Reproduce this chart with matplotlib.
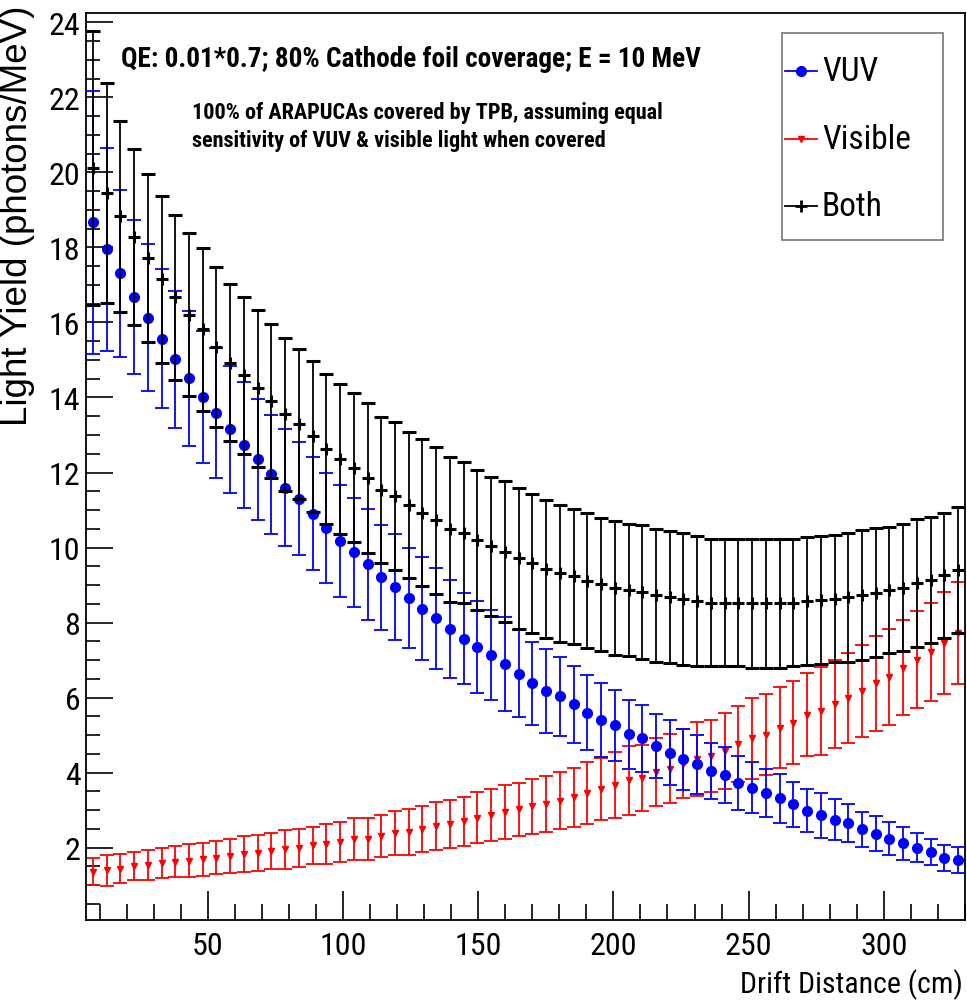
import numpy as np
import matplotlib
matplotlib.use("Agg")
import matplotlib.pyplot as plt
from matplotlib.lines import Line2D
from matplotlib.patches import Rectangle
from matplotlib.ticker import MultipleLocator

NARROW = ['Roboto Condensed', 'Liberation Sans Narrow', 'Liberation Sans', 'DejaVu Sans']
plt.rcParams['font.family'] = NARROW

# 64 drift-distance bins from 5 to 330 cm
bin_edges = np.linspace(5, 330, 65)
drift = 0.5 * (bin_edges[:-1] + bin_edges[1:])

vuv = [18.67, 17.95, 17.31, 16.68, 16.13, 15.57, 15.02, 14.51, 14.02, 13.58,
       13.15, 12.73, 12.35, 11.95, 11.60, 11.30, 10.90, 10.53, 10.18, 9.87,
       9.55, 9.21, 8.95, 8.65, 8.37, 8.11, 7.82, 7.57, 7.35, 7.13,
       6.89, 6.64, 6.38, 6.18, 6.03, 5.82, 5.60, 5.40, 5.26, 5.02,
       4.91, 4.71, 4.53, 4.35, 4.22, 4.04, 3.93, 3.73, 3.60, 3.45,
       3.31, 3.15, 2.98, 2.86, 2.74, 2.65, 2.49, 2.37, 2.24, 2.11,
       2.00, 1.88, 1.73, 1.67]
vuv_err = [3.50, 2.70, 2.23, 2.05, 1.95, 1.85, 1.83, 1.80, 1.76, 1.73,
           1.70, 1.67, 1.62, 1.58, 1.57, 1.50, 1.50, 1.47, 1.50, 1.46,
           1.48, 1.40, 1.42, 1.34, 1.37, 1.34, 1.31, 1.21, 1.22, 1.20,
           1.25, 1.16, 1.10, 1.12, 1.05, 1.02, 1.00, 0.98, 0.95, 0.92,
           0.90, 0.86, 0.87, 0.82, 0.79, 0.75, 0.75, 0.72, 0.67, 0.64,
           0.65, 0.61, 0.57, 0.60, 0.55, 0.50, 0.47, 0.46, 0.44, 0.44,
           0.38, 0.34, 0.35, 0.34]

visible = [1.36, 1.39, 1.44, 1.51, 1.54, 1.59, 1.62, 1.65, 1.69, 1.73,
           1.78, 1.83, 1.86, 1.90, 1.95, 1.98, 2.06, 2.09, 2.15, 2.23,
           2.24, 2.30, 2.39, 2.42, 2.49, 2.58, 2.64, 2.70, 2.79, 2.87,
           2.95, 3.02, 3.10, 3.16, 3.25, 3.34, 3.45, 3.57, 3.67, 3.79,
           3.85, 4.01, 4.10, 4.23, 4.36, 4.44, 4.58, 4.76, 4.91, 5.01,
           5.19, 5.33, 5.54, 5.64, 5.83, 5.98, 6.18, 6.38, 6.54, 6.80,
           7.01, 7.21, 7.45, 7.71]
visible_err = [0.37, 0.41, 0.38, 0.37, 0.40, 0.41, 0.41, 0.44, 0.44, 0.44,
               0.46, 0.48, 0.48, 0.48, 0.52, 0.51, 0.50, 0.53, 0.53, 0.56,
               0.56, 0.56, 0.59, 0.62, 0.62, 0.64, 0.64, 0.66, 0.68, 0.69,
               0.71, 0.71, 0.74, 0.75, 0.76, 0.79, 0.83, 0.83, 0.87, 0.92,
               0.88, 0.90, 0.92, 0.92, 0.99, 0.96, 1.02, 1.01, 1.07, 1.08,
               1.08, 1.11, 1.11, 1.18, 1.17, 1.20, 1.22, 1.27, 1.28, 1.27,
               1.30, 1.30, 1.36, 1.36]

both = [20.11, 19.45, 18.83, 18.27, 17.72, 17.15, 16.67, 16.21, 15.82, 15.35,
        14.93, 14.59, 14.24, 13.91, 13.55, 13.29, 12.96, 12.62, 12.35, 12.13,
        11.86, 11.54, 11.38, 11.14, 10.93, 10.73, 10.49, 10.40, 10.20, 10.03,
        9.89, 9.71, 9.58, 9.44, 9.31, 9.23, 9.11, 9.02, 8.93, 8.87,
        8.82, 8.73, 8.67, 8.62, 8.58, 8.53, 8.53, 8.53, 8.51, 8.51,
        8.51, 8.53, 8.58, 8.60, 8.64, 8.67, 8.73, 8.80, 8.87, 8.93,
        9.05, 9.14, 9.26, 9.40]
both_err = [3.65, 2.93, 2.54, 2.35, 2.25, 2.22, 2.20, 2.17, 2.17, 2.13,
            2.10, 2.10, 2.10, 2.05, 2.03, 2.00, 2.00, 2.00, 2.00, 1.98,
            2.00, 1.95, 1.97, 1.95, 1.95, 1.96, 1.93, 1.87, 1.86, 1.86,
            1.88, 1.88, 1.86, 1.84, 1.82, 1.80, 1.80, 1.78, 1.79, 1.76,
            1.78, 1.77, 1.76, 1.76, 1.73, 1.70, 1.70, 1.70, 1.73, 1.73,
            1.73, 1.70, 1.70, 1.71, 1.69, 1.71, 1.73, 1.71, 1.68, 1.69,
            1.70, 1.68, 1.67, 1.68]

W, H = 967, 1003
fig = plt.figure(figsize=(W / 100, H / 100), dpi=100)
ax = fig.add_axes([86 / W, 1 - 921 / H, 879 / W, 907 / H])

# error bars (drawn visible, vuv, both so the black sits on top)
ax.errorbar(drift, visible, yerr=visible_err, fmt='v', color='#ff0000',
            ms=5, elinewidth=1.3, capsize=5, capthick=1.3, zorder=2)
ax.errorbar(drift, vuv, yerr=vuv_err, fmt='o', color='#0000ff',
            ms=7, elinewidth=1.3, capsize=5, capthick=1.3, zorder=3)
ax.errorbar(drift, both, yerr=both_err, fmt='+', color='black',
            ms=9, mew=2.2, elinewidth=1.3, capsize=5, capthick=1.3, zorder=4)

ax.set_xlim(5, 330)
ax.set_ylim(0.07, 24.25)
ax.xaxis.set_minor_locator(MultipleLocator(10))
ax.yaxis.set_minor_locator(MultipleLocator(0.5))
ax.set_yticks(np.arange(2, 25, 2))
ax.set_xticks([50, 100, 150, 200, 250, 300])
ax.tick_params(axis='both', which='both', direction='in', top=False, right=False,
               width=1.2, colors='black', labelsize=23)
ax.tick_params(axis='y', which='major', length=19.4, pad=4)
ax.tick_params(axis='y', which='minor', length=10)
ax.tick_params(axis='x', which='major', length=21, pad=8)
ax.tick_params(axis='x', which='minor', length=11.5)
for s in ax.spines.values():
    s.set_linewidth(1.3)

# axis titles, ROOT style placement
fig.text(963 / W, 1 - 993 / H, 'Drift Distance (cm)', ha='right', va='baseline',
         fontsize=21.5)
fig.text(27 / W, 1 - 6 / H, 'Light Yield (photons/MeV)', rotation=90,
         rotation_mode='anchor', ha='right', va='baseline', fontsize=26.5,
         family=['Liberation Sans', 'DejaVu Sans'])

# annotations
fig.text(121 / W, 1 - 67 / H, 'QE: 0.01*0.7; 80% Cathode foil coverage; E = 10 MeV',
         fontsize=19.6, fontweight='bold', va='baseline')
fig.text(192 / W, 1 - 119 / H, '100% of ARAPUCAs covered by TPB, assuming equal',
         fontsize=16, fontweight='bold', va='baseline')
fig.text(192 / W, 1 - 147 / H, 'sensitivity of VUV & visible light when covered',
         fontsize=16, fontweight='bold', va='baseline')

# legend box drawn like ROOT's TLegend
fig.add_artist(Rectangle((782 / W, 1 - 241 / H), 161 / W, 207 / H,
                         transform=fig.transFigure, facecolor='white',
                         edgecolor='#777777', linewidth=1.2, zorder=5))
entries = [('VUV', '#0000ff', 'o', 7, 1.0, 72),
           ('Visible', '#ff0000', 'v', 5, 1.0, 140),
           ('Both', 'black', '+', 9, 2.0, 207)]
for label, col, mk, ms, mew, py in entries:
    fig.add_artist(Line2D([785 / W, 817 / W], [1 - py / H, 1 - py / H],
                          transform=fig.transFigure, color=col, lw=1.3, zorder=6))
    fig.add_artist(Line2D([801 / W], [1 - py / H], transform=fig.transFigure,
                          color=col, marker=mk, ms=ms, mew=mew, zorder=7))
    fig.text(822 / W, 1 - py / H, label, fontsize=24, va='center', ha='left',
             zorder=7)

fig.savefig('out.png', dpi=100)
